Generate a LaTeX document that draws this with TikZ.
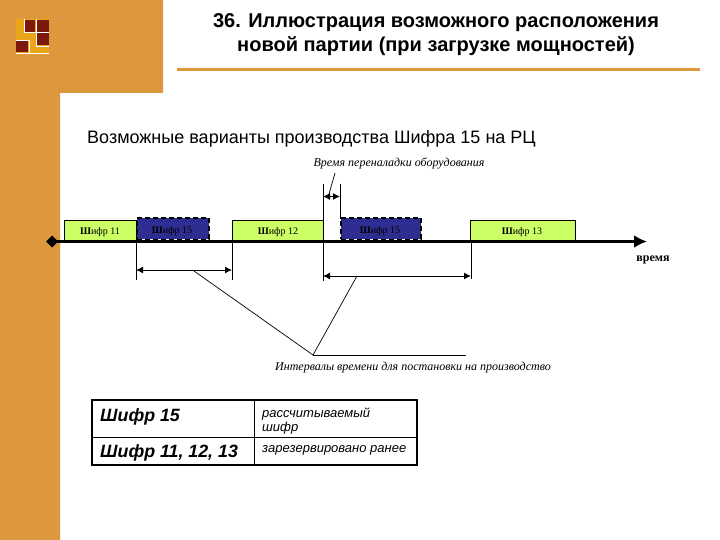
\documentclass[tikz,border=0pt]{standalone}
\usepackage{fontspec}
\setmainfont{Liberation Serif}
\newfontfamily\arialfont{Liberation Sans}
\usetikzlibrary{arrows.meta,patterns.meta}
\definecolor{slideorange}{RGB}{221,152,62}
\definecolor{logored}{RGB}{125,25,10}
\definecolor{logoyellow}{RGB}{235,165,25}
\definecolor{greenbox}{RGB}{204,255,102}
\definecolor{bluebox}{RGB}{46,46,146}
\tikzset{
	fixedbox/.style={draw=black,line width=0.5pt,fill=greenbox,inner sep=0pt,anchor=south west},
	newbox/.style={draw=black,line width=1.5pt,dash pattern=on 5pt off 3pt,fill=bluebox,inner sep=0pt,anchor=south west,
		postaction={pattern={Dots[distance=8pt,radius=0.4pt]},pattern color=black}},
	boxtext/.style={font=\fontsize{10}{10}\selectfont},
	timeline/.style={line width=3.4pt,-{Latex[length=13pt,width=13pt]}},
	thinline/.style={line width=0.7pt},
	span/.style={line width=1pt,{Latex[length=7pt,width=7pt]}-{Latex[length=7pt,width=7pt]}},
	note/.style={font=\fontsize{12}{12}\selectfont\itshape},
	cell/.style={font=\arialfont\bfseries\fontsize{17.8}{20}\selectfont\itshape,anchor=west,inner sep=0pt},
	smallcell/.style={font=\arialfont\fontsize{13}{14}\selectfont\itshape,anchor=west,align=left,inner sep=0pt}
}
\begin{document}
\begin{tikzpicture}[x=1pt,y=-1pt]
	\useasboundingbox (0,0) rectangle (720,540);
	% background
	\fill[slideorange] (0,0) -- (163,0) -- (163,93) -- (60,93) -- (60,540) -- (0,540) -- cycle;
	\fill[slideorange] (177,68) rectangle (700,71);
	% logo
	\fill[logoyellow] (16,19) rectangle (49,53);
	\fill[logored] (25,20) rectangle (35,32);
	\fill[logored] (37,20) rectangle (49,32);
	\fill[logored] (37,33) rectangle (49,45);
	\fill[logored] (16,41) rectangle (28,52);
	\draw[white,line width=0.8pt] (24,19) -- (24,32) -- (36,32) (36,19) -- (36,46) -- (49,46) (16,40) -- (29,40) -- (29,53) (16,53) -- (49,53) (36,32) -- (49,32);
	% title
	\node[font=\arialfont\bfseries\fontsize{20}{24}\selectfont,align=center] (title) at (436,34.5) {36. Иллюстрация возможного расположения\\новой партии (при загрузке мощностей)};
	\node[font=\arialfont\fontsize{18}{20}\selectfont,anchor=west,inner sep=0pt] (heading) at (87,139) {Возможные варианты производства Шифра 15 на РЦ};
	% production blocks
	\node[fixedbox,minimum width=72pt,minimum height=19pt] (c11) at (64,240) {};
	\node[newbox,minimum width=72pt,minimum height=21pt] (c15a) at (136,240) {};
	\node[fixedbox,minimum width=91pt,minimum height=19pt] (c12) at (232,240) {};
	\node[newbox,minimum width=80pt,minimum height=21pt] (c15b) at (340,240) {};
	\node[fixedbox,minimum width=105pt,minimum height=19pt] (c13) at (470,240) {};
	\node[boxtext] (t11) at (100,232.5) {\textbf{Ш}ифр 11};
	\node[boxtext] (t15a) at (172,231) {\textbf{Ш}ифр 15};
	\node[boxtext] (t12) at (278,232.5) {\textbf{Ш}ифр 12};
	\node[boxtext] (t15b) at (380,231) {\textbf{Ш}ифр 15};
	\node[boxtext] (t13) at (522,232.5) {\textbf{Ш}ифр 13};
	% time axis
	\coordinate (start) at (52,241.5);
	\coordinate (end) at (647,241.5);
	\draw[timeline] (start) -- (end);
	\fill[black] (46,241.5) -- (52,235.5) -- (58,241.5) -- (52,247.5) -- cycle;
	\node[font=\bfseries\fontsize{12}{12}\selectfont] (timelabel) at (653,260) {время};
	% marks
	\coordinate (m1a) at (136,240); \coordinate (m1b) at (136,280);
	\coordinate (m2a) at (232,240); \coordinate (m2b) at (232,280);
	\coordinate (m3a) at (323,184); \coordinate (m3b) at (323,281);
	\coordinate (m4a) at (340,184); \coordinate (m4b) at (340,219);
	\coordinate (m5a) at (471,240); \coordinate (m5b) at (471,279);
	\foreach \a/\b in {m1a/m1b,m2a/m2b,m3a/m3b,m4a/m4b,m5a/m5b}
		\draw[thinline] (\a) -- (\b);
	% intervals
	\coordinate (i1a) at (136,270); \coordinate (i1b) at (232,270);
	\coordinate (i2a) at (323,276); \coordinate (i2b) at (471,276);
	\coordinate (i3a) at (323,196.5); \coordinate (i3b) at (340,196.5);
	\draw[span] (i1a) -- (i1b);
	\draw[span] (i2a) -- (i2b);
	\draw[span] (i3a) -- (i3b);
	% leaders
	\node[note] (setup) at (399,163.5) {Время переналадки оборудования};
	\coordinate (setupfoot) at (329,194);
	\coordinate (setuptop) at (335,173);
	\draw[thinline] (setuptop) -- (setupfoot);
	\coordinate (knee) at (313,355);
	\coordinate (kneeend) at (466,355);
	\coordinate (foot1) at (194,271);
	\coordinate (foot2) at (357,276);
	\draw[thinline] (foot1) -- (knee) -- (foot2);
	\draw[thinline] (knee) -- (kneeend);
	\node[note] (intervals) at (413,367.5) {Интервалы времени для постановки на производство};
	% legend
	\coordinate (tl) at (92,400); \coordinate (br) at (417,465);
	\coordinate (ml) at (92,437); \coordinate (mr) at (417,437);
	\coordinate (ct) at (254,400); \coordinate (cb) at (254,465);
	\draw[line width=1.6pt] (tl) rectangle (br);
	\draw[line width=0.8pt] (ml) -- (mr);
	\draw[line width=0.8pt] (ct) -- (cb);
	\node[cell] (k15) at (100,417) {Шифр 15};
	\node[cell] (k11) at (100,453) {Шифр 11, 12, 13};
	\node[smallcell] (v15) at (262,421) {рассчитываемый\\шифр};
	\node[smallcell] (v11) at (262,450.5) {зарезервировано ранее};
\end{tikzpicture}
\end{document}
